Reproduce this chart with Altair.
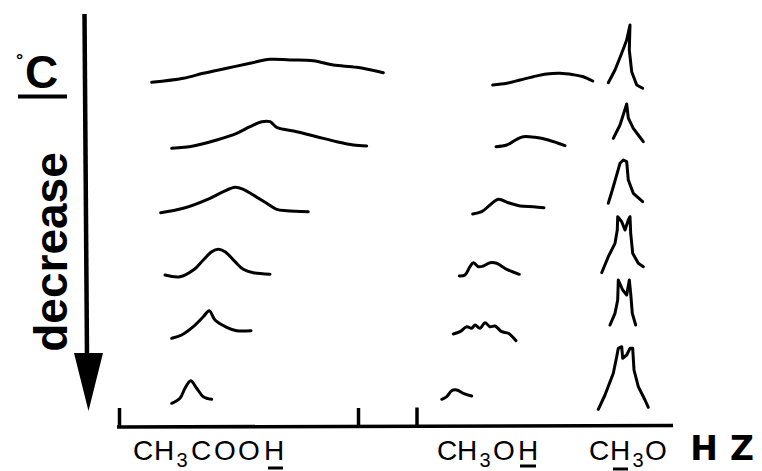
import altair as alt
import pandas as pd

# ---- traced spectra (x, y) in figure units; rows go from high T (top) to low T (bottom)
acid_rows = [
    [(151.7, 82.3), (183.3, 78.3), (203.3, 73.3), (226.7, 68.3), (250, 63.3), (270, 59.3),
     (290, 60), (313.3, 60.7), (333.3, 65), (356.7, 67.3), (383.3, 72.7)],
    [(171.7, 148.3), (193.3, 146), (216.7, 140), (236.7, 133.3), (250, 126.7), (261.7, 121.7),
     (270, 121.7), (276.7, 127.3), (296.7, 131.7), (316.7, 136.7), (336.7, 141.7), (353.3, 145), (366.7, 146)],
    [(160.7, 212.7), (183.3, 208.3), (210, 198.3), (223.3, 191.7), (235, 187.3), (243.3, 189.3),
     (253.3, 195), (266.7, 203.3), (276.7, 209.3), (286.7, 210.7), (308.3, 211.7)],
    [(165, 275), (180, 276.7), (193.3, 270), (203.3, 260), (211.7, 251.7), (218.3, 249.3),
     (225, 251.7), (235, 261.7), (243.3, 269.3), (253.3, 272.7), (270, 274.3)],
    [(171.7, 338.3), (181.7, 335), (193.3, 326.7), (203.3, 316.7), (209.3, 310.7), (215, 320),
     (226.7, 327.3), (236.7, 330.7), (251, 330.7)],
    [(171.7, 403.3), (180, 398.3), (185, 388.3), (190.7, 380.7), (196.7, 388.3), (203.3, 396.7), (211.7, 399.3)],
]
methanol_oh_rows = [
    [(492.7, 85), (506.7, 83.3), (520, 80), (533.3, 76.7), (546.7, 74), (560, 73.3),
     (573.3, 74.7), (583.3, 76.7), (592.7, 81)],
    [(496, 146.7), (506.7, 145), (516.7, 139.3), (523.3, 136.7), (535, 137.3), (548.3, 140), (565, 145.7)],
    [(472.7, 214), (481.7, 211.7), (490, 205), (498.3, 199.3), (508.3, 202.7), (520, 206),
     (533.3, 206.7), (544, 207.7)],
    [(459.3, 276), (465, 275), (470, 266.7), (473.3, 262.7), (478.3, 266.7), (483.3, 266),
     (490, 262.7), (496.7, 263.3), (506.7, 269.3), (519.3, 274.3)],
    [(453.3, 334), (460, 331.7), (466.7, 326.7), (471.7, 328.3), (475, 325), (480, 328.3),
     (485, 322.7), (490, 326.7), (495, 326), (501.7, 331.7), (508.3, 333.3), (516, 340.7)],
    [(441.7, 399.3), (446.7, 396.7), (451.7, 390.7), (456.7, 390), (463.3, 393.3), (471.7, 396)],
]
methoxy_rows = [
    [(608.3, 82.7), (615, 70), (621.7, 53.3), (626.7, 40), (630, 25), (629.3, 50),
     (631.7, 71.7), (636.7, 85), (642.7, 88.3)],
    [(613.3, 138.3), (620, 125), (626.7, 104), (628.3, 118), (633.3, 128.3), (638.3, 135), (643.3, 141.7)],
    [(608.3, 203.3), (613.3, 186.7), (620, 163.3), (623.3, 160), (626.7, 161.7), (628.3, 180),
     (633.3, 193.3), (642.7, 201.7)],
    [(601.7, 272.7), (608.3, 256.7), (615, 243.3), (617.3, 230), (617.7, 216.7), (621.7, 221.7),
     (625, 230), (628.3, 220), (630, 216.7), (630.7, 233.3), (632.7, 253.3), (638.3, 263.3), (643.3, 266.7)],
    [(610, 325), (615, 313.3), (617.7, 300), (618.3, 280), (622.7, 290), (626.7, 295),
     (629.3, 280), (630.7, 293.3), (632.3, 313.3), (635.7, 325)],
    [(598.3, 409.3), (605, 395), (613.3, 373.3), (616.7, 356.7), (618.3, 348.3), (621.7, 346.7),
     (622.7, 358.3), (626.7, 355), (630, 348.3), (632.7, 348.3), (634, 370), (638.3, 386.7),
     (645, 400), (648.3, 407.3)],
]

# ---- frequency axis (baseline + ticks)
axis_segments = [  # x, x2, y, y2
    (117, 673, 427, 425.5),
    (119.5, 119.5, 408, 427),
    (358.5, 358.5, 408, 427),
    (417, 417, 407.5, 427),
]
# ---- label glyphs (each placed at its centre)
label_chars = ["C", "H", "3", "C", "O", "O", "H",
               "C", "H", "3", "O", "H",
               "C", "H", "3", "O"]
label_cx = [143, 164, 182, 201, 225, 249, 274,
            447, 467, 485, 504, 528,
            599, 620, 638, 656]
label_sub = [False, False, True, False, False, False, False,
             False, False, True, False, False,
             False, False, True, False]
underlines = [(268, 283, 468), (520, 536, 466), (613, 628, 469)]

XS = alt.Scale(domain=[8, 754], nice=False, zero=False)
YS = alt.Scale(domain=[8, 471], reverse=True, nice=False, zero=False)


def curves_df(groups):
    rows = []
    for gname, group in groups:
        for i, pts in enumerate(group):
            for j, (x, y) in enumerate(pts):
                rows.append({"curve": f"{gname}{i}", "x": x, "y": y, "o": j})
    return pd.DataFrame(rows)


def X(f="x"):
    return alt.X(f"{f}:Q", scale=XS, axis=None)


def Y(f="y"):
    return alt.Y(f"{f}:Q", scale=YS, axis=None)


smooth = alt.Chart(curves_df([("a", acid_rows), ("m", methanol_oh_rows)])).mark_line(
    color="black", strokeWidth=3, interpolate="catmull-rom", strokeCap="round"
).encode(x=X(), y=Y(), detail="curve:N", order="o:Q")

sharp = alt.Chart(curves_df([("o", methoxy_rows)])).mark_line(
    color="black", strokeWidth=3, strokeCap="round", strokeJoin="round"
).encode(x=X(), y=Y(), detail="curve:N", order="o:Q")

axis_df = pd.DataFrame(axis_segments, columns=["x", "x2", "y", "y2"])
axis_layer = alt.Chart(axis_df).mark_rule(color="black", strokeWidth=3.5).encode(
    x=X(), x2="x2:Q", y=Y(), y2="y2:Q")

ul_df = pd.DataFrame(underlines, columns=["x", "x2", "y"])
ul_layer = alt.Chart(ul_df).mark_rule(color="black", strokeWidth=3).encode(
    x=X(), x2="x2:Q", y=Y())

lab_df = pd.DataFrame({"t": label_chars, "x": label_cx, "sub": label_sub})
lab_df["y"] = [466.5 if s else 459.5 for s in lab_df["sub"]]
main_txt = alt.Chart(lab_df[~lab_df["sub"]]).mark_text(
    font="Liberation Sans", fontSize=28, align="center", baseline="alphabetic", color="black"
).encode(x=X(), y=Y(), text="t:N")
sub_txt = alt.Chart(lab_df[lab_df["sub"]]).mark_text(
    font="Liberation Sans", fontSize=20, align="center", baseline="alphabetic", color="black"
).encode(x=X(), y=Y(), text="t:N")

hz_df = pd.DataFrame({"t": ["H", "Z"], "x": [704, 742], "y": [460, 460]})
hz_txt = alt.Chart(hz_df).mark_text(
    font="DejaVu Sans", fontWeight="bold", fontSize=33, align="center", baseline="alphabetic", color="black"
).encode(x=X(), y=Y(), text="t:N")

# ---- temperature arrow and its labels
shaft_df = pd.DataFrame({"x": [84.5], "x2": [87], "y": [14], "y2": [356]})
shaft = alt.Chart(shaft_df).mark_rule(color="black", strokeWidth=4.5).encode(
    x=X(), x2="x2:Q", y=Y(), y2="y2:Q")
head_df = pd.DataFrame({"x": [74, 88.5, 103], "y": [353, 353, 353], "y2": [353, 411, 353]})
head = alt.Chart(head_df).mark_area(color="black").encode(x=X(), y=Y(), y2="y2:Q")

c_df = pd.DataFrame({"t": ["C"], "x": [25], "y": [88]})
c_txt = alt.Chart(c_df).mark_text(
    font="Liberation Sans", fontWeight="bold", fontSize=46, align="left", baseline="alphabetic", color="black"
).encode(x=X(), y=Y(), text="t:N")
deg_df = pd.DataFrame({"t": ["°"], "x": [16], "y": [66]})
deg_txt = alt.Chart(deg_df).mark_text(
    font="Liberation Sans", fontWeight="bold", fontSize=18, align="left", baseline="alphabetic", color="black"
).encode(x=X(), y=Y(), text="t:N")
cul_df = pd.DataFrame({"x": [18], "x2": [67], "y": [96.5]})
cul = alt.Chart(cul_df).mark_rule(color="black", strokeWidth=4).encode(x=X(), x2="x2:Q", y=Y())

dec_df = pd.DataFrame({"t": ["decrease"], "x": [67], "y": [252]})
dec_txt = alt.Chart(dec_df).mark_text(
    font="Liberation Sans", fontWeight="bold", fontSize=46, align="center", baseline="alphabetic",
    angle=270, color="black"
).encode(x=X(), y=Y(), text="t:N")

chart = alt.layer(
    smooth, sharp, axis_layer, ul_layer, main_txt, sub_txt, hz_txt,
    shaft, head, c_txt, deg_txt, cul, dec_txt
).properties(
    width=746, height=463, padding=0, autosize=alt.AutoSizeParams(type="none"),
    background="white"
).configure_view(stroke=None)

chart.save("out.html", embed_options={"renderer": "svg", "actions": False})
